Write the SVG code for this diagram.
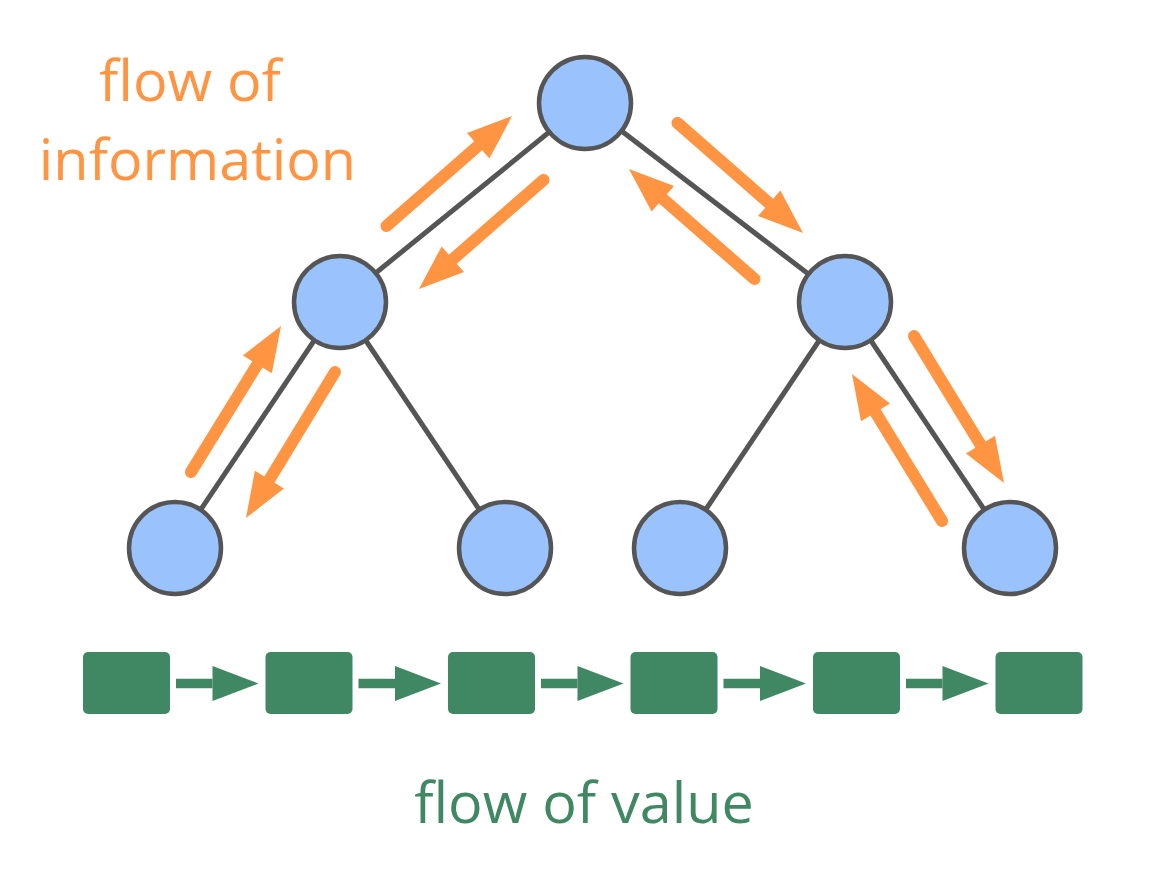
<svg xmlns="http://www.w3.org/2000/svg" width="1166" height="894" viewBox="0 0 1166 894">
  <style>
    .edge { stroke: #555555; stroke-width: 5; fill: none; }
    .node { fill: #9ac2fd; stroke: #555555; stroke-width: 4.5; }
    .info { stroke: #ff9442; stroke-width: 12; stroke-linecap: round; fill: none; marker-end: url(#infoHead); }
    .block { fill: #408863; }
    .label { font-family: "Open Sans", "Noto Sans", "DejaVu Sans", sans-serif; font-size: 57.5px; text-anchor: middle; }
  </style>
  <defs>
    <marker id="infoHead" markerUnits="userSpaceOnUse" markerWidth="50" markerHeight="40" refX="0" refY="0" viewBox="0 -20 50 40" orient="auto" overflow="visible">
      <path d="M0,-17 L45,0 L0,17 Z" fill="#ff9442"/>
    </marker>
    <marker id="valueHead" markerUnits="userSpaceOnUse" markerWidth="50" markerHeight="40" refX="0" refY="0" viewBox="0 -20 50 40" orient="auto" overflow="visible">
      <path d="M0,-17.5 L46,0 L0,17.5 Z" fill="#408863"/>
    </marker>
  </defs>

  <!-- tree edges -->
  <g id="edges">
    <line class="edge" x1="585" y1="103" x2="340" y2="302"/>
    <line class="edge" x1="585" y1="103" x2="845" y2="302"/>
    <line class="edge" x1="340" y1="302" x2="175" y2="548"/>
    <line class="edge" x1="340" y1="302" x2="505" y2="548"/>
    <line class="edge" x1="845" y1="302" x2="680" y2="548"/>
    <line class="edge" x1="845" y1="302" x2="1010" y2="548"/>
  </g>

  <!-- information flow arrows along edges -->
  <g id="info-arrows">
    <line class="info" x1="386.5" y1="226" x2="478.2" y2="145.7"/>
    <line class="info" x1="543.5" y1="180" x2="452.8" y2="259.3"/>
    <line class="info" x1="677.5" y1="123" x2="769.2" y2="203.3"/>
    <line class="info" x1="754.5" y1="279" x2="662.8" y2="198.7"/>
    <line class="info" x1="191" y1="472" x2="257.4" y2="364.3"/>
    <line class="info" x1="335" y1="372" x2="269.4" y2="479.6"/>
    <line class="info" x1="914" y1="336" x2="980.5" y2="444.6"/>
    <line class="info" x1="942" y1="521" x2="875.5" y2="412.4"/>
  </g>

  <!-- tree nodes -->
  <g id="node-root"><circle class="node" cx="585" cy="103" r="46"/></g>
  <g id="node-left"><circle class="node" cx="340" cy="302" r="46"/></g>
  <g id="node-right"><circle class="node" cx="845" cy="302" r="46"/></g>
  <g id="node-leaf1"><circle class="node" cx="175" cy="548" r="46"/></g>
  <g id="node-leaf2"><circle class="node" cx="505" cy="548" r="46"/></g>
  <g id="node-leaf3"><circle class="node" cx="680" cy="548" r="46"/></g>
  <g id="node-leaf4"><circle class="node" cx="1010" cy="548" r="46"/></g>

  <!-- value chain -->
  <g id="block-1"><rect class="block" x="83" y="652" width="87" height="62" rx="5"/></g>
  <g id="block-2"><rect class="block" x="265.5" y="652" width="87" height="62" rx="5"/></g>
  <g id="block-3"><rect class="block" x="448" y="652" width="87" height="62" rx="5"/></g>
  <g id="block-4"><rect class="block" x="630.5" y="652" width="87" height="62" rx="5"/></g>
  <g id="block-5"><rect class="block" x="813" y="652" width="87" height="62" rx="5"/></g>
  <g id="block-6"><rect class="block" x="995.5" y="652" width="87" height="62" rx="5"/></g>

  <g id="value-arrows" stroke="#408863" stroke-width="9.5" marker-end="url(#valueHead)">
    <line x1="176" y1="683.5" x2="212.5" y2="683.5"/>
    <line x1="358.5" y1="683.5" x2="395" y2="683.5"/>
    <line x1="541" y1="683.5" x2="577.5" y2="683.5"/>
    <line x1="723.5" y1="683.5" x2="760" y2="683.5"/>
    <line x1="906" y1="683.5" x2="942.5" y2="683.5"/>
  </g>

  <!-- labels -->
  <g id="label-information" class="label" fill="#ff9442">
    <text x="190" y="101">flow of</text>
    <text x="197.5" y="180">information</text>
  </g>
  <g id="label-value" class="label" fill="#408863">
    <text x="584" y="823">flow of value</text>
  </g>
</svg>
